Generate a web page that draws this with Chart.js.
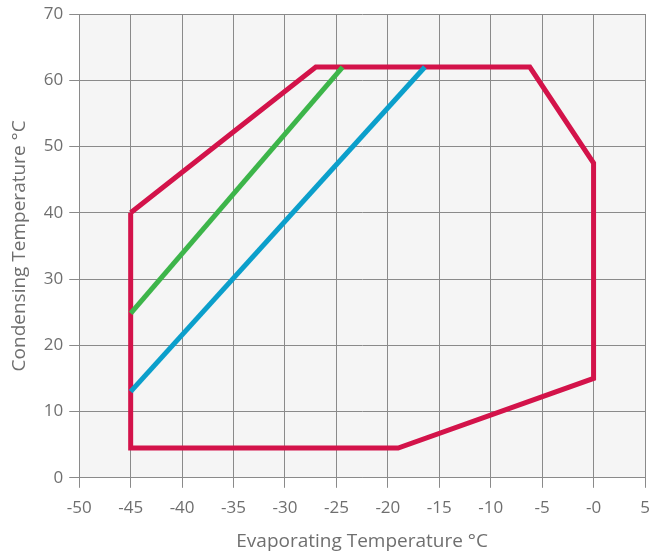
<!DOCTYPE html>
<html>
<head>
<meta charset="utf-8">
<script src="https://cdn.jsdelivr.net/npm/chart.js@4/dist/chart.umd.min.js"></script>
<style>
  html, body { margin: 0; padding: 0; background: #fff; }
  #wrap { width: 654px; height: 558px; }
</style>
</head>
<body>
<div id="wrap"><canvas id="grafico"></canvas></div>
<script>
// envolvente de operacion
const envolventeX = [-45, -27, -6.2, 0, 0, -19, -45, -45]
const envolventeY = [40, 62, 62, 47.5, 15, 4.5, 4.5, 40]

// linea verde
const verdeX = [-45, -24.4]
const verdeY = [24.8, 62]

// linea azul
const azulX = [-45, -16.4]
const azulY = [13, 62]

const ticksX = [-50, -45, -40, -35, -30, -25, -20, -15, -10, -5, 0, 5]
const ticksY = [0, 10, 20, 30, 40, 50, 60, 70]

function puntos(xs, ys) {
    return xs.map((x, i) => ({x: x, y: ys[i]}))
}

// fondo gris solo dentro del area del grafico
const fondoArea = {
    id: 'fondoArea',
    beforeDraw(chart) {
        const {ctx, chartArea} = chart
        ctx.save()
        ctx.fillStyle = '#f5f5f5'
        ctx.fillRect(chartArea.left, chartArea.top, chartArea.right - chartArea.left, chartArea.bottom - chartArea.top)
        ctx.restore()
    }
}

const gris = '#6f6f6f'
const fuente = "'Open Sans', sans-serif"

new Chart(document.getElementById('grafico'), {
    type: 'scatter',
    data: {
        datasets: [
            {
                data: puntos(verdeX, verdeY),
                borderColor: '#3db54a',
                borderWidth: 5,
                showLine: true,
                pointRadius: 0,
                borderCapStyle: 'butt'
            },
            {
                data: puntos(azulX, azulY),
                borderColor: '#0b9fcb',
                borderWidth: 5,
                showLine: true,
                pointRadius: 0,
                borderCapStyle: 'butt'
            },
            {
                data: puntos(envolventeX, envolventeY),
                borderColor: '#d3134a',
                borderWidth: 5,
                showLine: true,
                pointRadius: 0,
                borderJoinStyle: 'miter'
            }
        ]
    },
    options: {
        responsive: true,
        maintainAspectRatio: false,
        animation: false,
        layout: {
            padding: {top: 0, right: 0, left: 8, bottom: 0}
        },
        scales: {
            x: {
                type: 'linear',
                min: ticksX[0],
                max: ticksX[ticksX.length - 1],
                afterBuildTicks: (axis) => { axis.ticks = ticksX.map(v => ({value: v})) },
                // el padding de los ticks agranda el margen derecho, lo ajusto a mano
                afterFit: (axis) => { axis.paddingRight = 9 },
                ticks: {
                    color: gris,
                    font: {family: fuente, size: 17},
                    padding: 10,
                    maxRotation: 0,
                    autoSkip: false,
                    callback: (value) => value === 0 ? '-0' : value
                },
                grid: {
                    color: '#8a8a8a',
                    lineWidth: 1,
                    tickLength: 10
                },
                border: {color: '#8a8a8a'},
                title: {
                    display: true,
                    text: 'Evaporating Temperature °C',
                    color: gris,
                    font: {family: fuente, size: 19},
                    padding: {top: 2, bottom: 5}
                }
            },
            y: {
                type: 'linear',
                min: ticksY[0],
                max: ticksY[ticksY.length - 1],
                afterBuildTicks: (axis) => { axis.ticks = ticksY.map(v => ({value: v})) },
                afterFit: (axis) => { axis.paddingTop = 14 },
                ticks: {
                    color: gris,
                    font: {family: fuente, size: 17},
                    padding: 6
                },
                grid: {
                    color: '#8a8a8a',
                    lineWidth: 1,
                    tickLength: 10
                },
                border: {color: '#8a8a8a'},
                title: {
                    display: true,
                    text: 'Condensing Temperature °C',
                    color: gris,
                    font: {family: fuente, size: 19},
                    padding: {top: 0, bottom: 7}
                }
            }
        },
        plugins: {
            legend: {display: false},
            tooltip: {enabled: false}
        }
    },
    plugins: [fondoArea]
})
</script>
</body>
</html>
